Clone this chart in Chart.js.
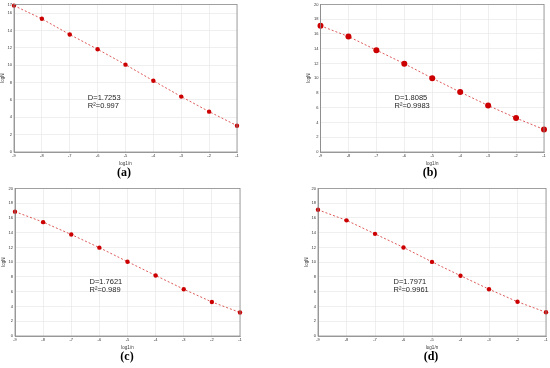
<!DOCTYPE html>
<html>
<head>
<meta charset="utf-8">
<script src="https://cdn.jsdelivr.net/npm/chart.js@4"></script>
<style>
  body { margin: 0; background: #fff; }
  #wrap { position: relative; width: 550px; height: 368px; overflow: hidden; }
  canvas { position: absolute; }
  .lbl { position: absolute; font-family: "Liberation Serif", serif; font-weight: bold; font-size: 12px; color: #000; transform: translateX(-50%); }
</style>
</head>
<body>
<div id="wrap">
  <canvas id="chartA" width="275" height="184" style="left:0;top:0"></canvas>
  <canvas id="chartB" width="275" height="184" style="left:275px;top:0"></canvas>
  <canvas id="chartC" width="275" height="184" style="left:0;top:184px"></canvas>
  <canvas id="chartD" width="275" height="184" style="left:275px;top:184px"></canvas>
  <div class="lbl" style="left:124px;top:165px">(a)</div>
  <div class="lbl" style="left:430px;top:165px">(b)</div>
  <div class="lbl" style="left:127px;top:349px">(c)</div>
  <div class="lbl" style="left:431px;top:349px">(d)</div>
</div>
<script>
// log(1/n) values on the x axis
const logInvN = [-9, -8, -7, -6, -5, -4, -3, -2, -1];

// logN
const logNa = [16.86, 15.34, 13.53, 11.83, 10.06, 8.2, 6.38, 4.65, 3.03];
const logNb = [17.1, 15.65, 13.8, 11.97, 10.0, 8.12, 6.3, 4.6, 3.05];
const logNc = [16.85, 15.43, 13.75, 11.97, 10.07, 8.2, 6.34, 4.61, 3.19];
const logNd = [17.1, 15.67, 13.84, 12.0, 10.04, 8.17, 6.34, 4.64, 3.21];

// fitted fractal dimension and R² per panel
const dimText = ['D=1.7253', 'D=1.8085', 'D=1.7621', 'D=1.7971'];
const r2Text = ['R²=0.997', 'R²=0.9983', 'R²=0.989', 'R²=0.9961'];

const yMax = [17, 20, 20, 20];

const red = '#cc0000';

// box around the plot area, like matlab
const boxPlugin = {
    id: 'box',
    afterDatasetsDraw(chart) {
        const a = chart.chartArea;
        const ctx = chart.ctx;
        ctx.save();
        ctx.strokeStyle = '#8c8c8c';
        ctx.lineWidth = 0.8;
        ctx.strokeRect(a.left, a.top, a.right - a.left, a.bottom - a.top);
        ctx.restore();
    }
};

// D and R² text inside the plot
const noteText = {
    id: 'noteText',
    afterDatasetsDraw(chart, args, opts) {
        const ctx = chart.ctx;
        const x = chart.scales.x.getPixelForValue(opts.x);
        const y = chart.scales.y.getPixelForValue(opts.y);
        ctx.save();
        ctx.fillStyle = '#262626';
        ctx.font = '7.5px "Liberation Sans", Arial, sans-serif';
        ctx.textBaseline = 'middle';
        ctx.fillText(opts.lines[0], x, y);
        ctx.fillText(opts.lines[1], x, y + 8);
        ctx.restore();
    }
};

function makeChart(id, values, idx, pad, pointR) {
    return new Chart(document.getElementById(id), {
        type: 'line',
        data: {
            datasets: [{
                data: logInvN.map((v, i) => ({x: v, y: values[i]})),
                borderColor: 'rgba(215,60,60,0.85)',
                borderWidth: 1,
                borderDash: [2, 2],
                pointRadius: pointR,
                pointBackgroundColor: red,
                pointBorderColor: red,
                pointBorderWidth: 0,
                tension: 0,
                clip: false
            }]
        },
        options: {
            responsive: false,
            animation: false,
            layout: {padding: pad},
            plugins: {
                legend: {display: false},
                tooltip: {enabled: false},
                noteText: {x: -6.35, y: 6.2 * yMax[idx] / 17, lines: [dimText[idx], r2Text[idx]]}
            },
            scales: {
                x: {
                    type: 'linear',
                    min: -9,
                    max: -1,
                    afterFit: s => { s.height = 14; },
                    ticks: {stepSize: 1, color: '#333', font: {size: 4}, padding: 1, maxRotation: 0},
                    grid: {color: '#e4e4e4', lineWidth: 0.6, drawTicks: false},
                    border: {color: '#8c8c8c', width: 0.8},
                    title: {display: true, text: 'log1/n', color: '#333', font: {size: 4.5}, padding: {top: 2, bottom: 0}}
                },
                y: {
                    min: 0,
                    max: yMax[idx],
                    afterFit: s => { s.width = 14; },
                    ticks: {stepSize: 2, color: '#333', font: {size: 4}, padding: 2},
                    grid: {color: '#e4e4e4', lineWidth: 0.6, drawTicks: false},
                    border: {color: '#8c8c8c', width: 0.8},
                    title: {display: true, text: 'logN', color: '#333', font: {size: 4.5}, padding: {top: 0, bottom: 1}}
                }
            }
        },
        plugins: [boxPlugin, noteText]
    });
}

makeChart('chartA', logNa, 0, {left: 0, right: 38, top: 2, bottom: 18}, 2.2);
makeChart('chartB', logNb, 1, {left: 31.5, right: 6, top: 4, bottom: 18}, 3);
makeChart('chartC', logNc, 2, {left: 1, right: 35, top: 2, bottom: 18}, 2.2);
makeChart('chartD', logNd, 3, {left: 29, right: 4, top: 3, bottom: 18}, 2.2);
</script>
</body>
</html>
